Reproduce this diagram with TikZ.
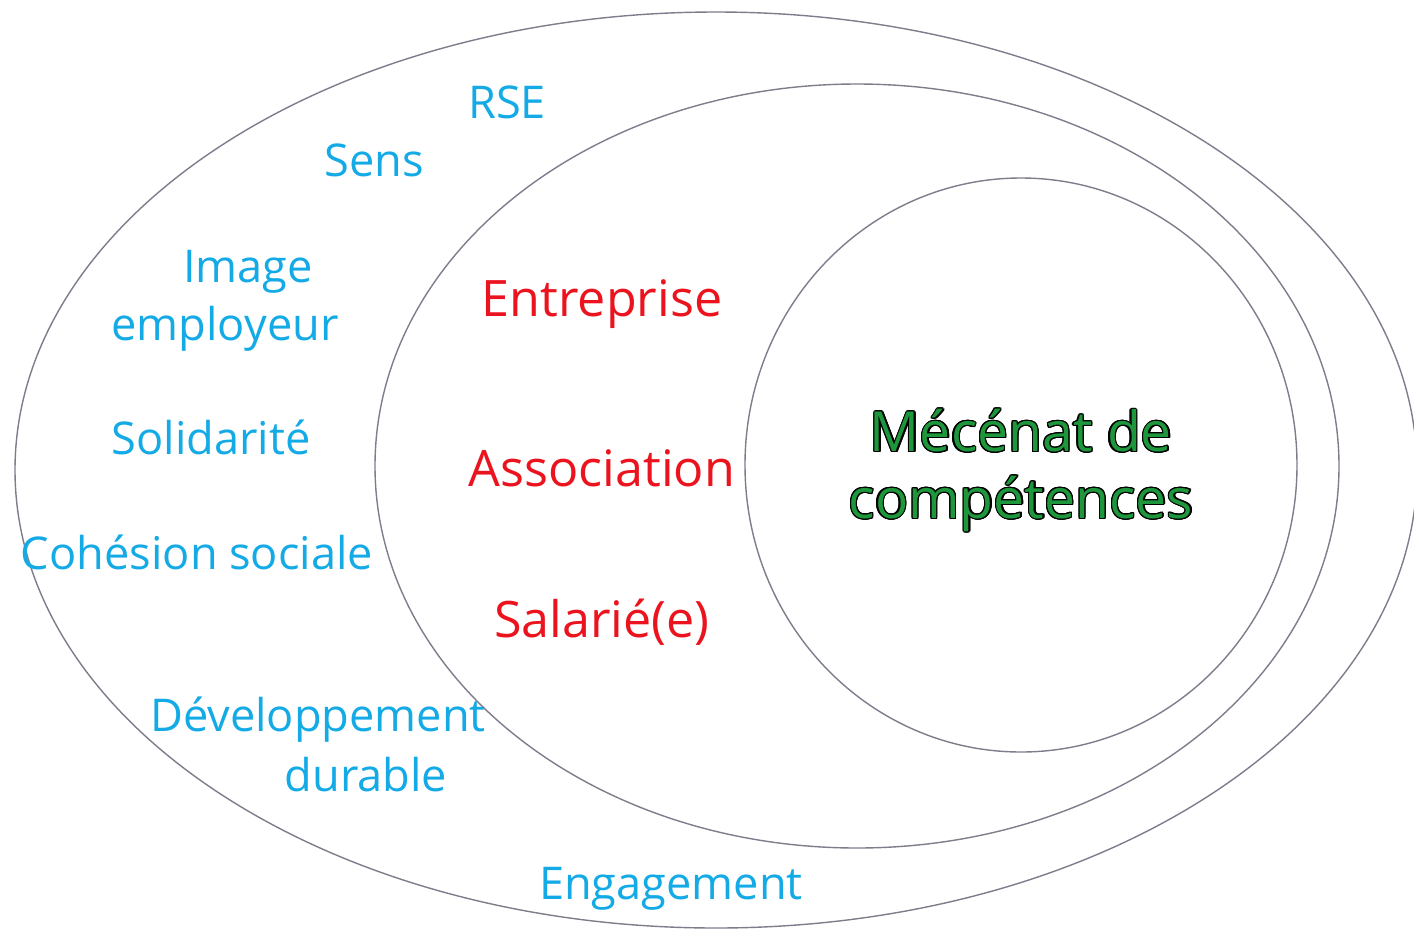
\documentclass[tikz,border=0pt]{standalone}
\usepackage{fontspec}
\setmainfont{Open Sans}
\usepackage[copies]{contour}
\usepackage{tikz}
\definecolor{ringgray}{RGB}{125,125,140}
\definecolor{themeblue}{RGB}{20,170,230}
\definecolor{actorred}{RGB}{235,20,30}
\definecolor{coregreen}{RGB}{30,150,60}
\contourlength{0.7pt}
\tikzset{%
    ring/.style={draw=ringgray, line width=0.8pt},
    theme/.style={text=themeblue, inner sep=0pt, align=center,
        font=\fontsize{25.7}{31}\selectfont},
    actor/.style={text=actorred, inner sep=0pt,
        font=\fontsize{28.6}{34}\selectfont},
    core/.style={text=coregreen, inner sep=0pt, align=center,
        font=\fontsize{31.5}{38}\selectfont}
}

\begin{document}
\begin{tikzpicture}[x=0.02cm, y=-0.02cm]
    \useasboundingbox (0,0) rectangle (1414,931);
    \draw[ring] (716,470) ellipse (701 and 458);
    \draw[ring] (857,466) ellipse (482 and 382);
    \draw[ring] (1021,465) ellipse (276 and 287);
	\node[theme] (rse) at (507,102) {RSE};
	\node[theme] (sens) at (374,160) {Sens};
	\node[theme] (image) at (248,272) {Image};
	\node[theme] (employeur) at (225,329) {employeur};
	\node[theme] (solidarite) at (211,437) {Solidarité};
	\node[theme] (cohesion) at (197,552) {Cohésion sociale};
	\node[theme] (developpement) at (318,720) {Développement};
	\node[theme] (durable) at (366,775) {durable};
	\node[theme] (engagement) at (671,889) {Engagement};
	\node[actor] (entreprise) at (602,304) {Entreprise};
	\node[actor] (association) at (602,468) {Association};
	\node[actor] (salarie) at (602,622) {Salarié(e)};
	\node[core] (mecenat) at (1021,471) {\contour{black}{Mécénat de}\\\contour{black}{compétences}};
\end{tikzpicture}
\end{document}
